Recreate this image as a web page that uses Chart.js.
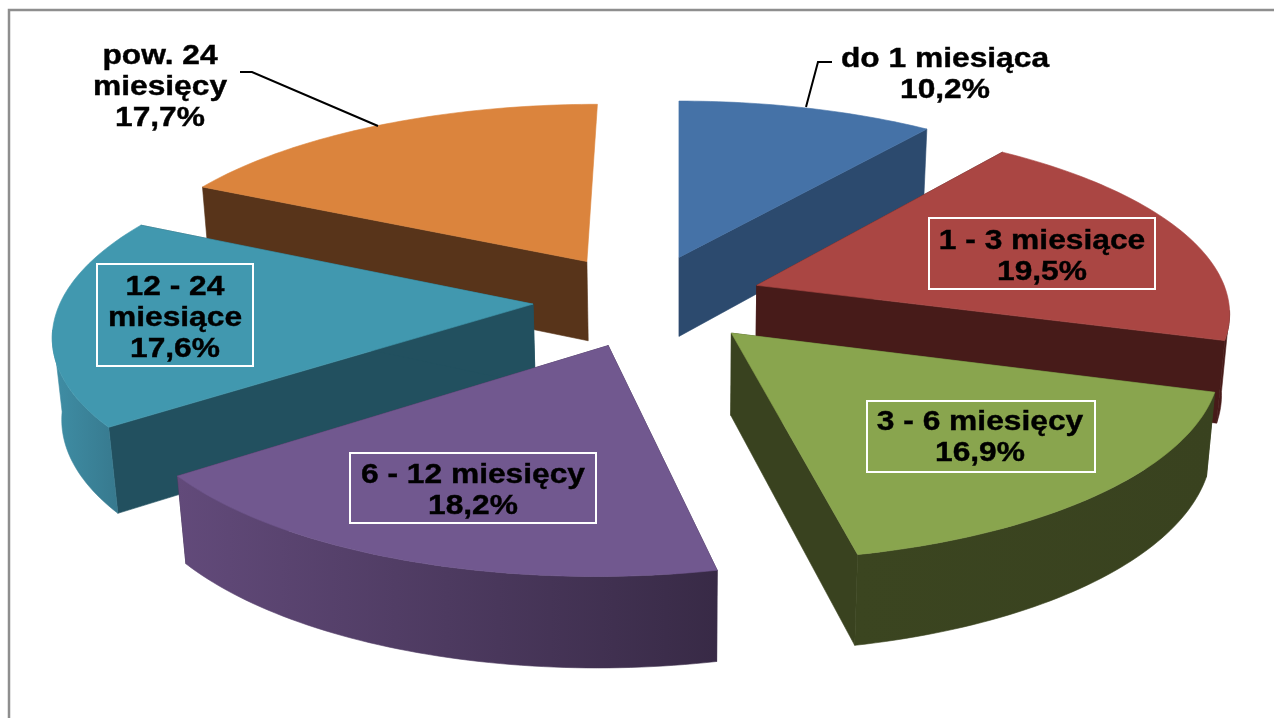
<!DOCTYPE html>
<html lang="pl">
<head>
<meta charset="utf-8">
<title>Struktura wg czasu</title>
<script src="https://cdn.jsdelivr.net/npm/chart.js@4"></script>
<style>
  html, body { margin: 0; padding: 0; background: #fff; overflow: hidden; }
  canvas { display: block; }
</style>
</head>
<body>
<canvas id="chart" width="1274" height="718"></canvas>
<script>
const categories = ["do 1 miesiąca", "1 - 3 miesiące", "3 - 6 miesięcy", "6 - 12 miesięcy", "12 - 24 miesiące", "pow. 24 miesięcy"];
const values = [10.2, 19.5, 16.9, 18.2, 17.6, 17.7];

const topColors = ["#4572a7", "#aa4643", "#89a54e", "#71588f", "#4198af", "#db843d"];
const wallColors = ["#2c4a6e", "#471b19", "#39421f", "#3a2b48", "#22505f", "#58341a"];
// curved rim, left colour then right colour
const rimColors = [["#2c4a6e", "#2c4a6e"], ["#471b19", "#471b19"], ["#3b4520", "#39421f"], ["#624a7a", "#382a46"], ["#3f8ea5", "#37798e"], ["#58341a", "#58341a"]];

// how each label is split in lines, and where it goes
const labelBoxes = [
  { lines: ["do 1 miesiąca"], x: 945, y: 60 },
  { lines: ["1 - 3 miesiące"], x: 1042, y: 242, box: [929, 218, 226, 71] },
  { lines: ["3 - 6 miesięcy"], x: 980, y: 423, box: [867, 401, 228, 71] },
  { lines: ["6 - 12 miesięcy"], x: 473, y: 476, box: [350, 453, 246, 70] },
  { lines: ["12 - 24", "miesiące"], x: 175, y: 288, box: [97, 264, 156, 102] },
  { lines: ["pow. 24", "miesięcy"], x: 160, y: 57 },
];
const leaders = [
  [[806, 107], [818, 62], [832, 62]],
  [[240, 72], [252, 72], [378, 126]],
];

// camera: vanishing line at vpx, disc radius on screen, tilt, wall height
const P = { vpx: 680, rx: 472, ry: 187.4, k: 0.134, depth: 82, m: 0.015 };
// small per-slice corrections, in pixels
const nudgeX = [-1, 7, 10, 4, -1, -2];
const nudgeY = [-2, -1, 0, 3, 0, -2];

function project(d, u, v, z) {
  const U = d.ox + u, V = d.oy + v;
  const w = 1 - P.k * V + P.m * z;
  return [P.vpx + P.rx * U / w + nudgeX[d.i], d.cy + (P.ry * V + P.depth * z) / w + nudgeY[d.i]];
}

function arcPts(d, s, e, z) {
  const pts = [];
  const n = Math.max(2, Math.ceil((e - s) / 0.02));
  for (let i = 0; i <= n; i++) {
    const a = s + (e - s) * i / n;
    pts.push(project(d, Math.cos(a), Math.sin(a), z));
  }
  return pts;
}

function fillPoly(ctx, pts, fill) {
  ctx.beginPath();
  pts.forEach((p, i) => i ? ctx.lineTo(p[0], p[1]) : ctx.moveTo(p[0], p[1]));
  ctx.closePath();
  ctx.fillStyle = fill;
  ctx.strokeStyle = fill;
  ctx.lineWidth = 0.6;
  ctx.fill();
  ctx.stroke();
}

const pie3d = {
  id: "pie3d",
  beforeDraw(chart) {
    // grey frame, only left and top are in the picture
    const ctx = chart.ctx;
    ctx.save();
    ctx.strokeStyle = "#8e8e8e";
    ctx.lineWidth = 2.5;
    ctx.beginPath();
    ctx.moveTo(9, 718); ctx.lineTo(9, 10); ctx.lineTo(1274, 10);
    ctx.stroke();
    ctx.restore();
  },
  beforeDatasetDraw(chart) {
    const ctx = chart.ctx;
    const arcs = chart.getDatasetMeta(0).data.map((el, i) => {
      const mid = (el.startAngle + el.endAngle) / 2;
      const e = el.options.offset / P.rx;
      return { i, s: el.startAngle, e: el.endAngle, mid, cy: el.y, ox: (el.x - P.vpx) / P.rx + e * Math.cos(mid), oy: e * Math.sin(mid) };
    });
    // back slices first
    arcs.sort((a, b) => Math.sin(a.mid) - Math.sin(b.mid));
    const tangent = Math.asin(P.k);
    arcs.forEach((d) => {
      const { i, s, e } = d;
      const apex = project(d, 0, 0, 0), apexBot = project(d, 0, 0, 1);
      // flat cut walls, a wall pointing straight back is edge-on and stays out
      [s, e].forEach((a) => {
        const u = Math.cos(a), v = Math.sin(a);
        if (v < -0.99) return;
        fillPoly(ctx, [apex, project(d, u, v, 0), project(d, u, v, 1), apexBot], wallColors[i]);
      });
      // curved rim, only the part turned to the viewer
      const rs = Math.max(s, tangent), re = Math.min(e, Math.PI - tangent);
      if (re > rs) {
        const up = arcPts(d, rs, re, 0), lo = arcPts(d, rs, re, 1).reverse();
        const xs = up.concat(lo).map((p) => p[0]);
        const g = ctx.createLinearGradient(Math.min(...xs), 0, Math.max(...xs), 0);
        g.addColorStop(0, rimColors[i][0]);
        g.addColorStop(1, rimColors[i][1]);
        fillPoly(ctx, up.concat(lo), g);
      }
      // top face
      fillPoly(ctx, [apex].concat(arcPts(d, s, e, 0)), topColors[i]);
    });
    return false;
  },
  afterDatasetsDraw(chart) {
    const ctx = chart.ctx;
    ctx.save();
    ctx.strokeStyle = "#000";
    ctx.lineWidth = 2;
    leaders.forEach((l) => {
      ctx.beginPath();
      l.forEach((p, i) => i ? ctx.lineTo(p[0], p[1]) : ctx.moveTo(p[0], p[1]));
      ctx.stroke();
    });
    ctx.font = 'bold 27px "Liberation Sans", Arial, sans-serif';
    ctx.textAlign = "center";
    ctx.textBaseline = "middle";
    labelBoxes.forEach((b, i) => {
      if (b.box) {
        ctx.strokeStyle = "#fff";
        ctx.lineWidth = 2;
        ctx.strokeRect(b.box[0], b.box[1], b.box[2], b.box[3]);
      }
      const pct = values[i].toFixed(1).replace(".", ",") + "%";
      ctx.fillStyle = "#000";
      ctx.strokeStyle = "#000";
      ctx.lineWidth = 0.4;
      b.lines.concat(pct).forEach((t, n) => {
        // the reference text is stretched sideways
        ctx.save();
        ctx.translate(b.x, b.y + n * 31);
        ctx.scale(1.175, 1);
        ctx.fillText(t, 0, 0);
        ctx.strokeText(t, 0, 0);
        ctx.restore();
      });
    });
    ctx.restore();
  },
};

new Chart(document.getElementById("chart"), {
  type: "pie",
  data: {
    labels: categories,
    datasets: [{ data: values, backgroundColor: topColors, borderWidth: 0, offset: 111 }],
  },
  options: {
    responsive: false,
    animation: false,
    devicePixelRatio: 1,
    layout: { padding: { left: 16, bottom: 118 } },
    plugins: { legend: { display: false }, tooltip: { enabled: false } },
  },
  plugins: [pie3d],
});
</script>
</body>
</html>
